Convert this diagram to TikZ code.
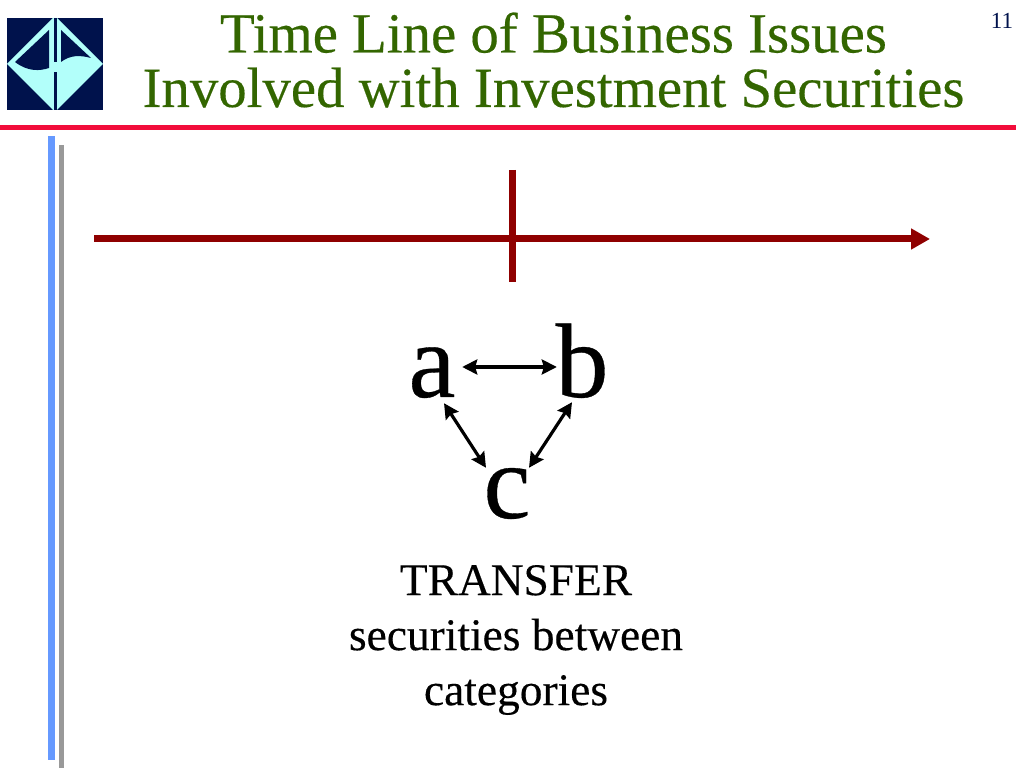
\documentclass[tikz,border=0pt]{standalone}
\usepackage{fontspec}
\setmainfont{Liberation Serif}
\newfontfamily\heavyfont[FakeBold=0.3]{Liberation Serif}
\usetikzlibrary{arrows.meta}
\definecolor{titlecol}{rgb}{0.2,0.4,0.0}
\definecolor{rulecol}{rgb}{0.95,0.05,0.23}
\definecolor{linecol}{rgb}{0.56,0.0,0.0}
\definecolor{navycol}{rgb}{0.0,0.07,0.3}
\definecolor{cyancol}{rgb}{0.7,1.0,0.98}
\definecolor{bluecol}{rgb}{0.4,0.6,1.0}
\definecolor{greycol}{rgb}{0.6,0.6,0.6}
\tikzset{
  titletext/.style={inner sep=0bp,align=center,text=titlecol,font=\heavyfont\fontsize{56.8bp}{54.5bp}\selectfont},
  lettertext/.style={inner sep=0bp,anchor=base,text height=60bp,text depth=0bp,font=\heavyfont\fontsize{106bp}{106bp}\selectfont},
  bodytext/.style={inner sep=0bp,align=center,font=\heavyfont\fontsize{45.4bp}{55bp}\selectfont},
  timeline/.style={draw=linecol,line width=7bp},
  swaparrow/.style={{Stealth[length=15bp,width=15bp,inset=2bp]}-{Stealth[length=15bp,width=15bp,inset=2bp]},line width=3.2bp},
}
\begin{document}
\begin{tikzpicture}[>=latex,line join=bevel]
  \useasboundingbox (0bp,0bp) rectangle (1024bp,768bp);
  % Logo
  \fill [navycol] (7bp,658bp) rectangle (103bp,750bp);
  \fill [cyancol] (7bp,704bp) -- (53bp,750bp) -- (57bp,750bp) -- (103bp,704bp) -- (57bp,658bp) -- (53bp,658bp) -- cycle;
  \fill [navycol] (49bp,738bp) -- (15bp,706bp) .. controls (28bp,696bp) and (40bp,697bp) .. (49bp,700bp) -- cycle;
  \fill [navycol] (61bp,738bp) -- (91bp,710bp) .. controls (80bp,713bp) and (70bp,713bp) .. (61bp,706bp) -- cycle;
  \fill [navycol] (53.5bp,706bp) rectangle (57bp,750bp);
  \fill [navycol] (53.5bp,658bp) rectangle (57bp,696bp);
  % Title
  \node [titletext] (title) at (553.5bp,708bp) {Time Line of Business Issues\\Involved with Investment Securities};
  \node [inner sep=0bp,text=navycol,font=\fontsize{23bp}{23bp}\selectfont] (pagenum) at (1002bp,747bp) {11};
  % Rules
  \fill [rulecol] (0bp,637.5bp) rectangle (1015.5bp,643bp);
  \fill [bluecol] (48bp,8bp) rectangle (54.5bp,632bp);
  \fill [greycol] (58.5bp,0bp) rectangle (64bp,623bp);
  % Time line
  \coordinate (start) at (94bp,529bp);
  \coordinate (end) at (930bp,529bp);
  \coordinate (tickhi) at (512bp,598bp);
  \coordinate (ticklo) at (512bp,486bp);
  \draw [timeline,-{Triangle[length=19bp,width=20bp]}] (start) -- (end);
  \draw [timeline] (tickhi) -- (ticklo);
  % Letters
  \node [lettertext] (a) at (432bp,371bp) {a};
  \node [lettertext] (b) at (582bp,371bp) {b};
  \node [lettertext] (c) at (507bp,250bp) {c};
  \draw [swaparrow,shorten <=6.5bp,shorten >=-1.5bp] (a) -- (b);
  \draw [swaparrow] ([shift={(12bp,-6bp)}]a.south) -- ([shift={(-21bp,-10bp)}]c.north);
  \draw [swaparrow] ([shift={(-10bp,-5bp)}]b.south) -- ([shift={(22bp,-10bp)}]c.north);
  % Caption
  \node [bodytext] (caption) at (516bp,128bp) {TRANSFER\\securities between\\categories};
\end{tikzpicture}
\end{document}
